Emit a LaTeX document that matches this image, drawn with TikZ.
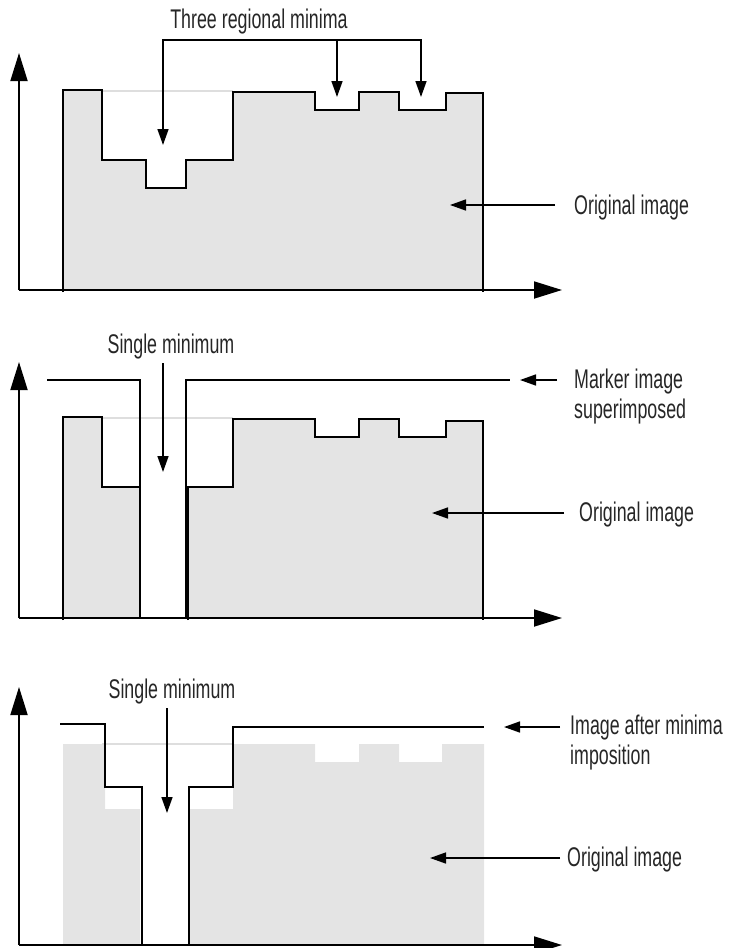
\documentclass[tikz,border=0pt]{standalone}
\usepackage{fontspec}
\setmainfont{Liberation Sans}[FakeStretch=0.66]
\usetikzlibrary{arrows.meta}
\definecolor{imgfill}{RGB}{228,228,228}
\definecolor{faintline}{RGB}{222,222,222}
\begin{document}
\begin{tikzpicture}[x=1pt,y=-1pt,
  axis/.style={line width=1.8pt,-{Triangle[length=28pt,width=17pt]}},
  prof/.style={line width=2pt,line join=miter},
  callout/.style={line width=1.5pt,-{Triangle[length=16pt,width=11pt]}},
  bracket/.style={line width=1.5pt,{Triangle[length=16pt,width=11pt]}-{Triangle[length=16pt,width=11pt]}},
  lbl/.style={font=\fontsize{27}{30}\selectfont,inner sep=0pt,align=left,text=black!85},
  faint/.style={draw=faintline,line width=1.2pt}]
\useasboundingbox (0,0) rectangle (734,948);

% ---------------- Panel 1 ----------------
\fill[imgfill] (63,290) -- (63,90) -- (102,90) -- (102,160) -- (146,160) -- (146,188) -- (186,188) -- (186,160) -- (233,160) -- (233,92) -- (315,92) -- (315,110) -- (359,110) -- (359,92) -- (399,92) -- (399,110) -- (446,110) -- (446,93) -- (483,93) -- (483,290) -- cycle;
\draw[faint] (102,91) -- (233,91);
\draw[prof] (63,292) -- (63,90) -- (102,90) -- (102,160) -- (146,160) -- (146,188) -- (186,188) -- (186,160) -- (233,160) -- (233,92) -- (315,92) -- (315,110) -- (359,110) -- (359,92) -- (399,92) -- (399,110) -- (446,110) -- (446,93) -- (483,93) -- (483,292);
\coordinate (o1) at (19,290);
\coordinate (ya1) at (19,53);
\coordinate (xa1) at (562,290);
\draw[axis] (o1) -- (ya1);
\draw[axis] (o1) -- (xa1);

\node[lbl,anchor=base] (t1) at (259,28) {Three regional minima};
\coordinate (b1) at (163,40);
\coordinate (b2) at (337,40);
\coordinate (b3) at (421,40);
\coordinate (m1) at (163,145);
\coordinate (m2) at (337,97);
\coordinate (m3) at (421,97);
\draw[bracket] (m1) -- (b1) -- (b3) -- (m3);
\draw[callout] (b2) -- (m2);

\node[lbl,anchor=base west] (t2) at (574,214) {Original image};
\coordinate (c1s) at (555,205);
\coordinate (c1e) at (450,205);
\draw[callout] (c1s) -- (c1e);

% ---------------- Panel 2 ----------------
\fill[imgfill] (63,618) -- (63,417) -- (102,417) -- (102,487) -- (140,487) -- (140,618) -- cycle;
\fill[imgfill] (188,618) -- (188,487) -- (233,487) -- (233,419) -- (315,419) -- (315,437) -- (359,437) -- (359,419) -- (399,419) -- (399,437) -- (446,437) -- (446,421) -- (483,421) -- (483,618) -- cycle;
\draw[faint] (102,418) -- (233,418);
\draw[prof] (63,620) -- (63,417) -- (102,417) -- (102,487) -- (140,487);
\draw[prof] (188,620) -- (188,487) -- (233,487) -- (233,419) -- (315,419) -- (315,437) -- (359,437) -- (359,419) -- (399,419) -- (399,437) -- (446,437) -- (446,421) -- (483,421) -- (483,620);
\draw[prof] (47,380) -- (140,380) -- (140,618);
\draw[prof] (186,618) -- (186,380) -- (510,380);
\coordinate (o2) at (19,618);
\coordinate (ya2) at (19,362);
\coordinate (xa2) at (562,618);
\draw[axis] (o2) -- (ya2);
\draw[axis] (o2) -- (xa2);

\node[lbl,anchor=base] (t3) at (171,353) {Single minimum};
\coordinate (s2s) at (163,363);
\coordinate (s2e) at (163,472);
\draw[callout] (s2s) -- (s2e);

\node[lbl,anchor=base west] (t4) at (574,418) {Marker image\\superimposed};
\coordinate (mk1) at (557,380);
\coordinate (mk2) at (520,380);
\draw[callout] (mk1) -- (mk2);

\node[lbl,anchor=base west] (t5) at (579,521) {Original image};
\coordinate (c2s) at (564,513);
\coordinate (c2e) at (432,513);
\draw[callout] (c2s) -- (c2e);

% ---------------- Panel 3 ----------------
\fill[imgfill] (63,945) -- (63,744) -- (105,744) -- (105,809) -- (140,809) -- (140,945) -- cycle;
\fill[imgfill] (189,945) -- (189,809) -- (233,809) -- (233,744) -- (315,744) -- (315,762) -- (359,762) -- (359,744) -- (399,744) -- (399,762) -- (442,762) -- (442,744) -- (484,744) -- (484,945) -- cycle;
\draw[faint] (102,744) -- (233,744);
\draw[prof] (60,724) -- (105,724) -- (105,787) -- (142,787) -- (142,945);
\draw[prof] (189,945) -- (189,787) -- (233,787) -- (233,727) -- (484,727);
\coordinate (o3) at (19,945);
\coordinate (ya3) at (19,687);
\coordinate (xa3) at (562,945);
\draw[axis] (o3) -- (ya3);
\draw[axis] (o3) -- (xa3);

\node[lbl,anchor=base] (t6) at (172,698) {Single minimum};
\coordinate (s3s) at (167,708);
\coordinate (s3e) at (167,813);
\draw[callout] (s3s) -- (s3e);

\node[lbl,anchor=base west] (t7) at (570,764) {Image after minima\\imposition};
\coordinate (im1) at (560,727);
\coordinate (im2) at (504,727);
\draw[callout] (im1) -- (im2);

\node[lbl,anchor=base west] (t8) at (567,866) {Original image};
\coordinate (c3s) at (560,858);
\coordinate (c3e) at (430,858);
\draw[callout] (c3s) -- (c3e);
\end{tikzpicture}
\end{document}
